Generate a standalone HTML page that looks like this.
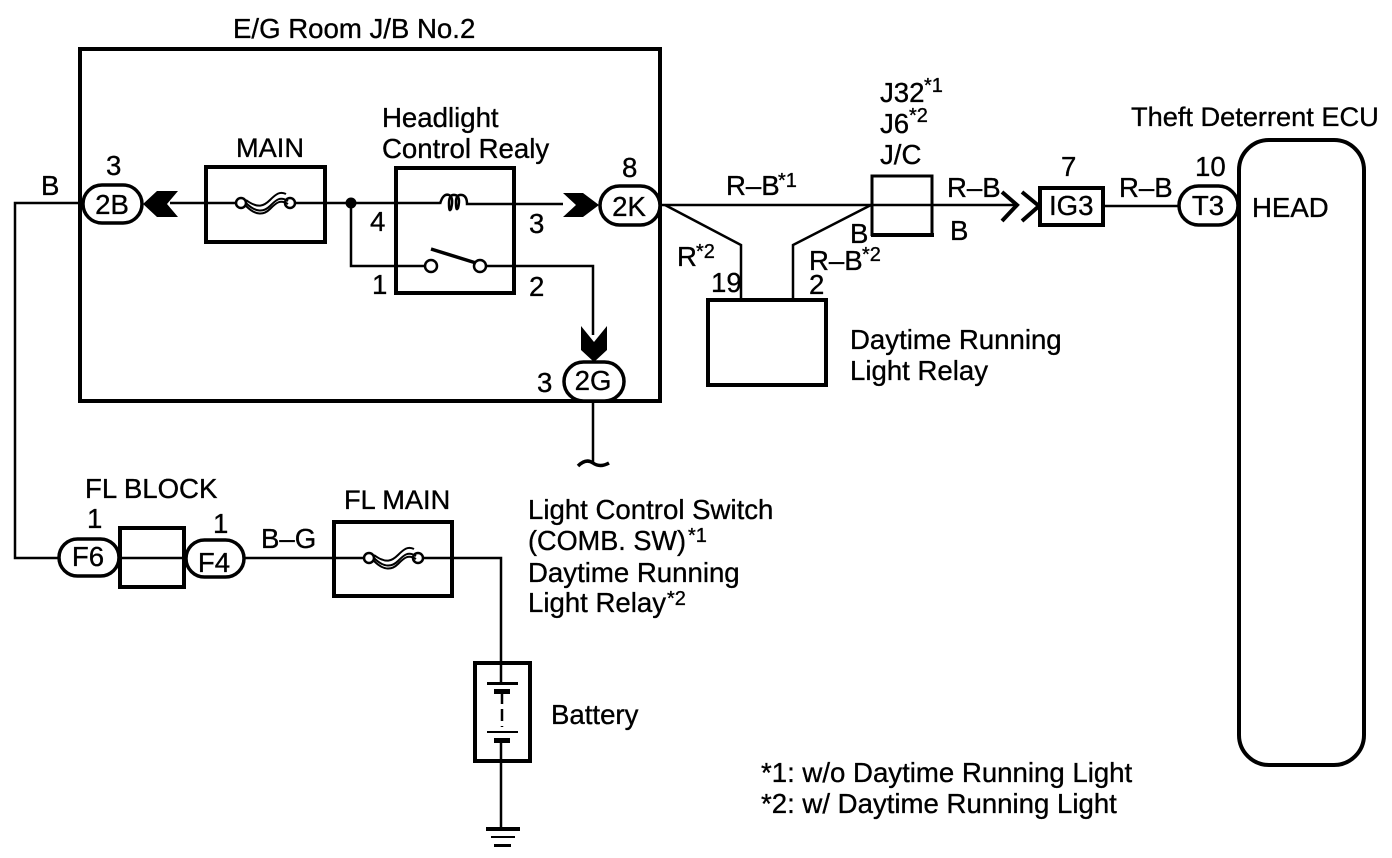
<!DOCTYPE html>
<html><head><meta charset="utf-8"><style>
html,body{margin:0;padding:0;background:#fff}
svg{display:block}
text{font-family:"Liberation Sans",sans-serif;font-size:27.6px;fill:#000;stroke:#000;stroke-width:.35}
.s{font-size:20px}
.t{font-size:27.2px}
.m{text-anchor:middle}
.k{fill:none;stroke:#000}
</style></head><body>
<svg width="1392" height="858" viewBox="0 0 1392 858" xmlns="http://www.w3.org/2000/svg">
<g class="k" stroke-width="2.5">
<path d="M82 203H15V558H58"/>
<path d="M170 203H241M290 203H351M351 203H440M470 204H563"/>
<path d="M351 203V266H425M486 266H593V335M593 401V462"/>
<path d="M660 205H1018"/>
<path d="M665 205L741 245V299M871 205L793 245V299"/>
<path d="M1104 206H1178"/>
<path d="M120 558H185M244 558H369M418 558H501V662"/>
<path d="M501 662V683M501 741V828"/>
<path d="M578 466q8 -8 15 -3t16 0" stroke-width="3.5"/>
<path d="M440 204q3 -11 9 -9q5 2 2 14q-2 4 -2 -6q0 -9 6 -8q6 1 3 13q-2 4 -2 -6q0 -8 6 -7q5 1 5 9h3"/>
</g>
<g class="k" stroke-width="4">
<rect x="80" y="49" width="580" height="352"/>
<rect x="206" y="167" width="119" height="75"/>
<rect x="396" y="168" width="118" height="125"/>
<rect x="708" y="300" width="118" height="85"/>
<rect x="1040" y="188" width="63" height="37"/>
<rect x="120" y="528" width="64" height="59"/>
<rect x="334" y="522" width="118" height="74"/>
<rect x="475" y="663" width="55" height="98"/>
<rect x="1239" y="140" width="125" height="625" rx="30" ry="30"/>
<path d="M872 236V176H932V236" stroke-width="3"/>
<path d="M871 235H934"/>
<path d="M1002 192L1017 205L1002 221M1022 192L1039 206L1022 221"/>
</g>
<g stroke="#000" stroke-width="3.5" fill="#fff">
<rect x="83" y="185" width="59" height="38" rx="19"/>
<rect x="600" y="186" width="60" height="39" rx="19.5"/>
<rect x="564" y="362" width="60" height="39" rx="19.5"/>
<rect x="1179" y="186" width="59" height="39" rx="19.5"/>
<rect x="59" y="539" width="60" height="37" rx="18.5"/>
<rect x="186" y="540" width="58" height="37" rx="18.5"/>
</g>
<g stroke="#000" stroke-width="2.5" fill="#fff">
<circle cx="241" cy="203" r="5"/><circle cx="290" cy="203" r="5"/>
<circle cx="369" cy="558" r="5"/><circle cx="418" cy="558" r="5"/>
<circle cx="431" cy="266" r="6"/><circle cx="480" cy="266" r="6"/>
</g>
<g class="k" stroke-width="2">
<path d="M246 203c10 10 18 9 24 3s10 -10 18 -5M246 206c10 10 18 9 24 3s10 -10 18 -5M246 200c12 9 18 6 24 0s10 -9 16 -6"/>
<path d="M374 558c10 10 18 9 24 3s10 -10 18 -5M374 561c10 10 18 9 24 3s10 -10 18 -5M374 555c12 9 18 6 24 0s10 -9 16 -6"/>
</g>
<path d="M431 249L476 263" stroke="#000" stroke-width="3.5"/>
<path d="M502 692V727" stroke="#000" stroke-width="2.5" stroke-dasharray="12 5"/>
<g fill="#000" stroke="none">
<circle cx="351" cy="203" r="5.5"/>
<path d="M143 204L157 191H178L167 204L178 217H157Z"/>
<path d="M599 205L583 193H563L576 205L563 217H583Z"/>
<path d="M581 326L594 342L607 326V350L594 362L581 350Z"/>
<rect x="487" y="682" width="31" height="3"/>
<rect x="494" y="689" width="16" height="5"/>
<rect x="487" y="731" width="31" height="2"/>
<rect x="494" y="738" width="16" height="5"/>
<rect x="486" y="827" width="34" height="4"/>
<rect x="491" y="836" width="24" height="2"/>
<rect x="494" y="844" width="17" height="3"/>
</g>
<text x="233" y="38">E/G Room J/B No.2</text>
<text class="t" x="236" y="157">MAIN</text>
<text x="382" y="127">Headlight</text>
<text x="382" y="158">Control Realy</text>
<text x="106" y="175">3</text>
<text x="41" y="195">B</text>
<text class="m" x="112" y="214">2B</text>
<text class="m" x="629" y="216">2K</text>
<text class="m" x="593" y="390">2G</text>
<text x="370" y="231">4</text>
<text x="529" y="233">3</text>
<text x="372" y="294">1</text>
<text x="529" y="296">2</text>
<text x="622" y="177">8</text>
<text x="537" y="392">3</text>
<text x="726" y="195">R–B</text><text class="s" x="778" y="187">*1</text>
<text x="880" y="102">J32</text><text class="s" x="924" y="92">*1</text>
<text x="880" y="133">J6</text><text class="s" x="909" y="122">*2</text>
<text x="880" y="164">J/C</text>
<text x="947" y="197">R–B</text>
<text x="950" y="240">B</text>
<text x="850" y="243">B</text>
<text x="809" y="270">R–B</text><text class="s" x="862" y="261">*2</text>
<text x="809" y="294">2</text>
<text x="677" y="266">R</text><text class="s" x="696" y="258">*2</text>
<text x="711" y="292">19</text>
<text x="850" y="349">Daytime Running</text>
<text x="850" y="380">Light Relay</text>
<text x="1061" y="176">7</text>
<text x="1049" y="215">IG3</text>
<text x="1119" y="197">R–B</text>
<text x="1195" y="176">10</text>
<text class="m" x="1208" y="215">T3</text>
<text x="1252" y="217">HEAD</text>
<text class="t" x="1131" y="126">Theft Deterrent ECU</text>
<text x="85" y="498">FL BLOCK</text>
<text x="87" y="528">1</text>
<text x="213" y="533">1</text>
<text class="m" x="88" y="566">F6</text>
<text class="m" x="214" y="572">F4</text>
<text x="261" y="548">B–G</text>
<text class="t" x="344" y="509">FL MAIN</text>
<text x="528" y="519">Light Control Switch</text>
<text x="528" y="550" textLength="158" lengthAdjust="spacingAndGlyphs">(COMB. SW)</text><text class="s" x="688" y="542">*1</text>
<text x="528" y="582">Daytime Running</text>
<text x="528" y="612">Light Relay</text><text class="s" x="667" y="605">*2</text>
<text x="551" y="724">Battery</text>
<text x="761" y="782">*1: w/o Daytime Running Light</text>
<text x="761" y="813">*2: w/ Daytime Running Light</text>
</svg>
</body></html>
